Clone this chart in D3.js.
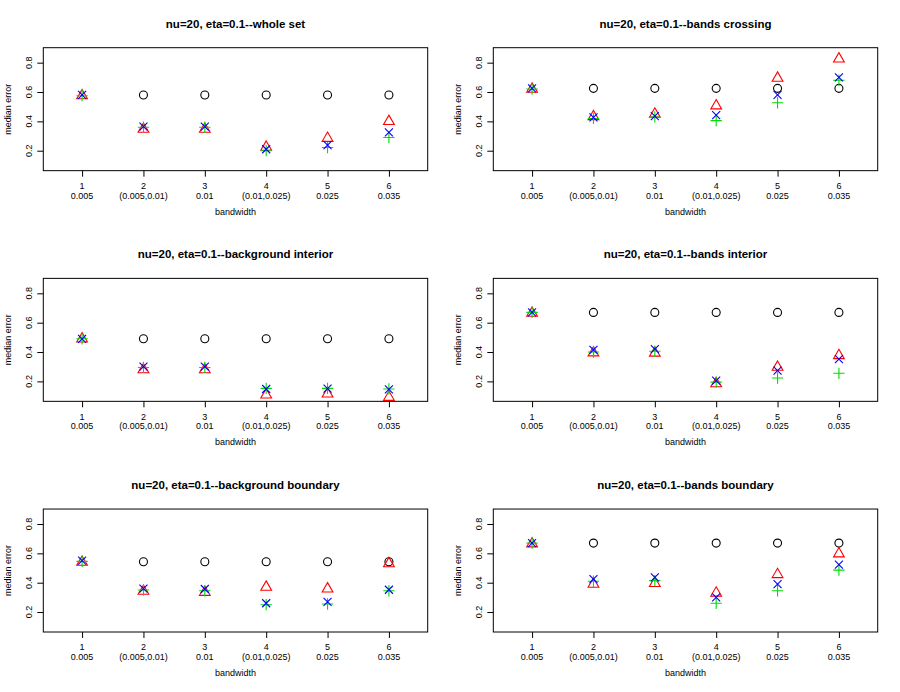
<!DOCTYPE html>
<html>
<head>
<meta charset="utf-8">
<script src="https://cdn.jsdelivr.net/npm/d3@7"></script>
<style>
  body { margin: 0; background: #fff; }
  svg text { font-family: "Liberation Sans", Arial, Helvetica, sans-serif; fill: #000; }
</style>
</head>
<body>
<svg id="chart"></svg>
<script>
const bandIndex = [1, 2, 3, 4, 5, 6];
const bandLabels = ["0.005", "(0.005,0.01)", "0.01", "(0.01,0.025)", "0.025", "0.035"];
const yTicks = [0.2, 0.4, 0.6, 0.8];

const panelTitles = [
    "nu=20, eta=0.1--whole set",
    "nu=20, eta=0.1--bands crossing",
    "nu=20, eta=0.1--background interior",
    "nu=20, eta=0.1--bands interior",
    "nu=20, eta=0.1--background boundary",
    "nu=20, eta=0.1--bands boundary"
];

// one row per panel, one value per bandwidth
const blackVals = [
    [null, 0.58, 0.58, 0.58, 0.58, 0.58],
    [null, 0.625, 0.625, 0.625, 0.625, 0.625],
    [null, 0.491, 0.491, 0.491, 0.491, 0.491],
    [null, 0.67, 0.67, 0.67, 0.67, 0.67],
    [null, 0.543, 0.543, 0.543, 0.543, 0.543],
    [null, 0.67, 0.67, 0.67, 0.67, 0.67]
];
const redVals = [
    [0.575, 0.347, 0.347, 0.224, 0.285, 0.40],
    [0.62, 0.433, 0.45, 0.506, 0.695, 0.826],
    [0.49, 0.28, 0.28, 0.108, 0.115, 0.092],
    [0.665, 0.395, 0.393, 0.185, 0.297, 0.376],
    [0.54, 0.342, 0.335, 0.37, 0.358, 0.53],
    [0.665, 0.39, 0.395, 0.33, 0.456, 0.597]
];
const greenVals = [
    [0.575, 0.36, 0.36, 0.20, 0.222, 0.29],
    [0.62, 0.42, 0.43, 0.405, 0.527, 0.68],
    [0.49, 0.295, 0.295, 0.152, 0.152, 0.148],
    [0.67, 0.40, 0.405, 0.195, 0.223, 0.255],
    [0.545, 0.35, 0.345, 0.25, 0.255, 0.345],
    [0.67, 0.41, 0.414, 0.26, 0.345, 0.486]
];
const blueVals = [
    [0.58, 0.364, 0.364, 0.21, 0.238, 0.325],
    [0.625, 0.427, 0.436, 0.443, 0.58, 0.70],
    [0.49, 0.30, 0.30, 0.148, 0.15, 0.145],
    [0.67, 0.415, 0.42, 0.205, 0.273, 0.352],
    [0.55, 0.36, 0.357, 0.26, 0.27, 0.352],
    [0.67, 0.425, 0.436, 0.30, 0.39, 0.523]
];

const width = 900;
const height = 692;
const cols = 2, rows = 3;
const pw = width / cols;
const ph = height / rows;
const margin = { top: 47.7, right: 22.3, bottom: 60, left: 43.3 };
const r = 4; // base symbol size

const svg = d3.select("#chart")
    .attr("width", width)
    .attr("height", height);

const x = d3.scaleLinear()
    .domain([0.368, 6.632])
    .range([margin.left, pw - margin.right]);

const y = d3.scaleLinear()
    .domain([0.064, 0.902])
    .range([ph - margin.bottom, margin.top]);

// symbol paths like R pch 1..4
const tri = (cx, cy) => {
    const rr = 1.555 * r;
    const hx = rr * Math.sqrt(3) / 2;
    return `M${cx},${cy - rr}L${cx + hx},${cy + rr / 2}L${cx - hx},${cy + rr / 2}Z`;
};
const plus = (cx, cy) => {
    const s = Math.SQRT2 * r;
    return `M${cx - s},${cy}H${cx + s}M${cx},${cy - s}V${cy + s}`;
};
const cross = (cx, cy) => `M${cx - r},${cy - r}L${cx + r},${cy + r}M${cx - r},${cy + r}L${cx + r},${cy - r}`;

panelTitles.forEach((title, p) => {
    const g = svg.append("g")
        .attr("transform", `translate(${(p % cols) * pw},${Math.floor(p / cols) * ph})`);

    // title
    g.append("text")
        .attr("x", (margin.left + pw - margin.right) / 2)
        .attr("y", 27.5)
        .attr("text-anchor", "middle")
        .attr("font-weight", "bold")
        .attr("font-size", 11.5)
        .text(title);

    // x axis
    const xAxis = g.append("g")
        .attr("transform", `translate(0,${ph - margin.bottom})`)
        .call(d3.axisBottom(x).tickValues(bandIndex).tickSize(6).tickFormat(""));
    xAxis.select(".domain").remove();
    xAxis.selectAll("line").attr("stroke", "#000");

    const lab = g.append("g").attr("font-size", 9).attr("text-anchor", "middle");
    lab.selectAll(".idx")
        .data(bandIndex)
        .enter()
        .append("text")
        .attr("x", d => x(d))
        .attr("y", ph - margin.bottom + 18.5)
        .text(d => d);
    lab.selectAll(".bw")
        .data(bandLabels)
        .enter()
        .append("text")
        .attr("x", (_, i) => x(bandIndex[i]))
        .attr("y", ph - margin.bottom + 28)
        .text(d => d);

    g.append("text")
        .attr("x", (margin.left + pw - margin.right) / 2)
        .attr("y", ph - margin.bottom + 44)
        .attr("text-anchor", "middle")
        .attr("font-size", 9)
        .text("bandwidth");

    // y axis
    const yAxis = g.append("g")
        .attr("transform", `translate(${margin.left},0)`)
        .call(d3.axisLeft(y).tickValues(yTicks).tickSize(6).tickFormat(""));
    yAxis.select(".domain").remove();
    yAxis.selectAll("line").attr("stroke", "#000");

    g.selectAll(".ylab")
        .data(yTicks)
        .enter()
        .append("text")
        .attr("transform", d => `translate(${margin.left - 11},${y(d)}) rotate(-90)`)
        .attr("text-anchor", "middle")
        .attr("font-size", 9)
        .text(d => d.toFixed(1));

    g.append("text")
        .attr("transform", `translate(10.5,${(margin.top + ph - margin.bottom) / 2}) rotate(-90)`)
        .attr("text-anchor", "middle")
        .attr("font-size", 9)
        .text("median error");

    // box
    g.append("rect")
        .attr("x", margin.left)
        .attr("y", margin.top)
        .attr("width", pw - margin.left - margin.right)
        .attr("height", ph - margin.top - margin.bottom)
        .attr("fill", "none")
        .attr("stroke", "#000")
        .attr("stroke-width", 1);

    const pts = (vals) => bandIndex.map((b, i) => ({ b, v: vals[i] })).filter(d => d.v != null);

    // black circles
    g.selectAll(".c")
        .data(pts(blackVals[p]))
        .enter()
        .append("circle")
        .attr("cx", d => x(d.b))
        .attr("cy", d => y(d.v))
        .attr("r", r)
        .attr("fill", "none")
        .attr("stroke", "#000")
        .attr("stroke-width", 1.1);

    // red triangles
    g.selectAll(".t")
        .data(pts(redVals[p]))
        .enter()
        .append("path")
        .attr("d", d => tri(x(d.b), y(d.v)))
        .attr("fill", "none")
        .attr("stroke", "#ff0000")
        .attr("stroke-width", 1.1);

    // green plus
    g.selectAll(".pl")
        .data(pts(greenVals[p]))
        .enter()
        .append("path")
        .attr("d", d => plus(x(d.b), y(d.v)))
        .attr("fill", "none")
        .attr("stroke", "#00dd00")
        .attr("stroke-width", 1.1);

    // blue crosses
    g.selectAll(".x")
        .data(pts(blueVals[p]))
        .enter()
        .append("path")
        .attr("d", d => cross(x(d.b), y(d.v)))
        .attr("fill", "none")
        .attr("stroke", "#0000ff")
        .attr("stroke-width", 1.1);
});
</script>
</body>
</html>
